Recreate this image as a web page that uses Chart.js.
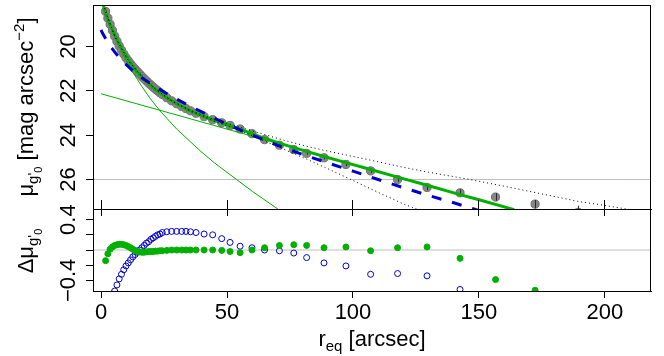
<!DOCTYPE html>
<html>
<head>
<meta charset="utf-8">
<script src="https://cdn.jsdelivr.net/npm/chart.js@4.4.1/dist/chart.umd.min.js"></script>
<style>
html, body { margin: 0; padding: 0; background: #fff; }
#wrap { position: relative; width: 664px; height: 356px; }
canvas { position: absolute; left: 0; }
#top { top: 0; }
#bot { top: 190px; }
</style>
</head>
<body>
<div id="wrap">
	<canvas id="top" width="664" height="216"></canvas>
	<canvas id="bot" width="664" height="166"></canvas>
</div>
<script>

// ---- data ----

// profile radii [arcsec], surface brightness [mag/arcsec^2] and errors
const radii = [1.8, 2.7, 3.6, 4.5, 5.4, 6.3, 7.2, 8.1, 9.0, 9.9,
	10.8, 11.7, 12.6, 13.5, 14.4, 15.3, 16.2, 17.1, 18.0, 18.9,
	19.8, 20.7, 21.6, 22.5, 23.4, 24.3, 26.1, 28.0, 30.0, 32.0,
	33.7, 35.5, 37.7, 40.9, 44.3, 47.9, 51.2, 55.2, 59.9, 64.9,
	70.8, 76.5, 81.6, 88.5, 97.2, 107.0, 117.7, 129.4, 142.5, 156.6,
	172.3, 189.4];
const surfBright = [18.42, 18.72, 19.00, 19.27, 19.53, 19.76, 19.97, 20.16, 20.34, 20.50,
	20.64, 20.78, 20.90, 21.02, 21.13, 21.24, 21.35, 21.45, 21.55, 21.65,
	21.74, 21.83, 21.92, 22.00, 22.08, 22.16, 22.31, 22.45, 22.58, 22.70,
	22.80, 22.90, 23.01, 23.16, 23.30, 23.44, 23.56, 23.72, 23.93, 24.20,
	24.45, 24.65, 24.82, 25.02, 25.32, 25.61, 26.00, 26.36, 26.60, 26.79,
	27.11, 27.48];
const surfErr = [0.02, 0.02, 0.02, 0.02, 0.02, 0.02, 0.02, 0.02, 0.02, 0.02,
	0.02, 0.02, 0.02, 0.02, 0.02, 0.02, 0.02, 0.02, 0.02, 0.02,
	0.02, 0.02, 0.02, 0.02, 0.02, 0.02, 0.02, 0.02, 0.02, 0.03,
	0.03, 0.03, 0.03, 0.03, 0.03, 0.03, 0.03, 0.03, 0.04, 0.04,
	0.05, 0.05, 0.06, 0.07, 0.08, 0.09, 0.10, 0.12, 0.15, 0.17,
	0.19, 0.30];

// residuals: two-component fit (green) and single Sersic fit (blue)
const residTwo = [-0.14, -0.05, 0.01, 0.04, 0.06, 0.07, 0.075, 0.075, 0.07, 0.06,
	0.045, 0.03, 0.01, -0.005, -0.02, -0.025, -0.03, -0.03, -0.025, -0.02,
	-0.02, -0.02, -0.015, -0.015, -0.01, -0.01, -0.005, 0, 0, 0,
	0, 0, 0, 0, 0, -0.005, -0.02, -0.035, 0, 0.03,
	0.06, 0.07, 0.06, 0.03, 0.04, -0.01, 0.03, 0.04, -0.11, -0.39,
	-0.53, -0.8];
const residOne = [-0.95, -0.82, -0.72, -0.62, -0.54, -0.46, -0.38, -0.32, -0.26, -0.21,
	-0.17, -0.13, -0.09, -0.06, -0.03, 0.0, 0.03, 0.06, 0.09, 0.11,
	0.14, 0.16, 0.18, 0.20, 0.21, 0.23, 0.24, 0.245, 0.245, 0.245,
	0.245, 0.24, 0.23, 0.21, 0.20, 0.15, 0.10, 0.05, 0.03, 0.0,
	-0.01, -0.04, -0.10, -0.17, -0.21, -0.32, -0.31, -0.34, -0.52, -0.75,
	-0.95, -1.1];

// model curves
const totalR = [0.3, 0.9, 1.8, 2.7, 3.6, 4.5, 5.4, 6.3, 7.2, 8.1,
	9.0, 10.8, 12.6, 14.4, 16.2, 18.0, 19.8, 21.6, 23.4, 26.1,
	30.0, 35.5, 40.9, 47.9, 55.2, 59.9, 64.9, 70.8, 76.5, 81.6,
	88.5, 97.2, 107.0, 117.7, 129.4, 142.5, 150.0, 164.0];
const totalMu = [17.85, 18.13, 18.50, 18.79, 19.02, 19.25, 19.48, 19.69, 19.89, 20.08,
	20.26, 20.59, 20.89, 21.15, 21.38, 21.58, 21.76, 21.93, 22.09, 22.31,
	22.58, 22.90, 23.16, 23.44, 23.73, 23.93, 24.14, 24.36, 24.56, 24.73,
	24.96, 25.24, 25.55, 25.89, 26.26, 26.68, 26.91, 27.36];

const bulgeR = [0.3, 0.9, 1.8, 3.6, 5.4, 7.2, 9.0, 10.8, 12.6, 14.4,
	16.2, 19.4, 23.4, 30.0, 39.3, 45.0, 53.8, 60.0, 70.8, 73.0];
const bulgeMu = [17.85, 18.15, 18.50, 19.05, 19.55, 20.00, 20.42, 20.80, 21.15, 21.48,
	21.80, 22.33, 22.90, 23.72, 24.70, 25.25, 26.00, 26.53, 27.38, 27.55];

const diskR = [0, 164];
const diskMu = [22.13, 27.36];

const sersicR = [0, 0.5, 2, 4, 6, 8, 10, 13, 16, 20,
	25, 30, 35, 40, 45, 50, 55, 60, 70, 80,
	90, 100, 110, 120, 130, 140, 148, 150];
const sersicMu = [19.25, 19.38, 19.68, 20.03, 20.33, 20.59, 20.82, 21.13, 21.40, 21.70,
	22.05, 22.37, 22.67, 22.95, 23.23, 23.50, 23.75, 24.00, 24.45, 24.87,
	25.25, 25.62, 26.00, 26.37, 26.72, 27.05, 27.33, 27.40];

// sky uncertainty envelope of the profile
const envUpR = [0.9, 1.8, 5.4, 10.8, 16.2, 21.6, 28.0, 35.5, 44.3, 51.2, 59.9, 70.8,
	81.6, 90.9, 98.8, 110, 120, 130, 145, 160, 175, 190, 200, 212];
const envUpMu = [18.10, 18.42, 19.53, 20.64, 21.35, 21.92, 22.44, 22.88, 23.27, 23.50, 23.80, 24.17,
	24.50, 24.74, 24.93, 25.20, 25.45, 25.67, 25.97, 26.30, 26.65, 27.00, 27.17, 27.40];
const envLoR = [0.9, 1.8, 5.4, 10.8, 16.2, 21.6, 28.0, 35.5, 44.3, 51.2, 59.9,
	70.8, 81.6, 90.9, 98.8, 110, 120, 128];
const envLoMu = [18.10, 18.42, 19.53, 20.64, 21.35, 21.92, 22.46, 22.92, 23.34, 23.63, 24.02,
	24.55, 25.08, 25.56, 25.98, 26.58, 27.10, 27.45];

// axes
const xLimits = [-3.2, 218.3];
const xTicks = [0, 50, 100, 150, 200];
const muLimits = [18.13, 27.33];
const muTicks = [20, 22, 24, 26];
const muTickLabels = ['20', '22', '24', '26'];
const muRef = 26;
const dLimits = [-0.54, 0.54];
const dTicks = [-0.4, -0.2, 0, 0.2, 0.4];
const dTickLabels = ['\u22120.4', '', '', '', '0.4'];
const dRef = 0;


const FONT = '"Liberation Sans", Arial, Helvetica, sans-serif';
const GREEN = '#00b000';
const BLUE = '#0000cc';

Chart.defaults.font.family = FONT;
Chart.defaults.color = '#000';


function pts(xs, ys) {
	return xs.map(function(x, i) { return {x: x, y: ys[i]}; });
}


function richText(ctx, parts, cx, cy, vertical) {
	let total = 0;
	parts.forEach(function(p) {
		ctx.font = p[1] + 'px ' + FONT;
		total += ctx.measureText(p[0]).width;
	});
	ctx.save();
	ctx.translate(cx, cy);
	if(vertical) {
		ctx.rotate(-Math.PI / 2);
	}
	ctx.fillStyle = '#000';
	ctx.textAlign = 'left';
	ctx.textBaseline = 'alphabetic';
	let x = -total / 2;
	parts.forEach(function(p) {
		ctx.font = p[1] + 'px ' + FONT;
		ctx.fillText(p[0], x, p[2]);
		x += ctx.measureText(p[0]).width;
	});
	ctx.restore();
}


// box round the plot region + rotated y tick labels + axis titles
const framePlugin = {
	id: 'frame',
	afterDraw(chart, args, opts) {
		const ctx = chart.ctx;
		const a = chart.chartArea;
		ctx.save();
		ctx.strokeStyle = '#000';
		ctx.lineWidth = 1;
		ctx.strokeRect(Math.round(a.left) + 0.5, Math.round(a.top) + 0.5,
			Math.round(a.right - a.left) - 1, Math.round(a.bottom - a.top));
		ctx.restore();

		const ys = chart.scales.y;
		ctx.save();
		ctx.fillStyle = '#000';
		ctx.font = '22px ' + FONT;
		ctx.textAlign = 'center';
		ctx.textBaseline = 'alphabetic';
		opts.ticks.forEach(function(v, i) {
			if(!opts.labels[i]) return;
			ctx.save();
			ctx.translate(75, ys.getPixelForValue(v));
			ctx.rotate(-Math.PI / 2);
			ctx.fillText(opts.labels[i], 0, 0);
			ctx.restore();
		});
		ctx.restore();

		(opts.titles || []).forEach(function(t) {
			richText(ctx, t.parts, t.x, t.y, t.vertical);
		});
	}
};


// error bars, drawn right after the profile points
const errorBarPlugin = {
	id: 'errbars',
	afterDatasetDraw(chart, args) {
		if(chart.data.datasets[args.index].label !== 'profile') return;
		const ctx = chart.ctx;
		const xs = chart.scales.x, ys = chart.scales.y;
		const a = chart.chartArea;
		ctx.save();
		ctx.beginPath();
		ctx.rect(a.left, a.top, a.right - a.left, a.bottom - a.top);
		ctx.clip();
		ctx.strokeStyle = '#2a2a2a';
		ctx.lineWidth = 1;
		radii.forEach(function(r, i) {
			const px = Math.round(xs.getPixelForValue(r)) + 0.5;
			let y1 = ys.getPixelForValue(surfBright[i] - surfErr[i]);
			let y2 = ys.getPixelForValue(surfBright[i] + surfErr[i]);
			if(Math.abs(y2 - y1) < 2) {
				const m = (y1 + y2) / 2;
				y1 = m - 1;
				y2 = m + 1;
			}
			ctx.beginPath();
			ctx.moveTo(px, y1);
			ctx.lineTo(px, y2);
			ctx.stroke();
		});
		ctx.restore();
	}
};


function fixedTicks(values) {
	return function(scale) {
		scale.ticks = values.map(function(v) { return {value: v}; });
	};
}


function lineSet(label, data, color, width, dash, order) {
	return {
		label: label,
		data: data,
		showLine: true,
		borderColor: color,
		borderWidth: width,
		borderDash: dash,
		pointRadius: 0,
		fill: false,
		tension: 0,
		order: order
	};
}


new Chart(document.getElementById('top').getContext('2d'), {
	type: 'scatter',
	data: {
		datasets: [
			lineSet('upper', pts(envUpR, envUpMu), '#000', 1, [1, 3], 0),
			lineSet('lower', pts(envLoR, envLoMu), '#000', 1, [1, 3], 0),
			lineSet('sersic', pts(sersicR, sersicMu), BLUE, 3, [10, 11], 1),
			lineSet('total', pts(totalR, totalMu), GREEN, 3, [], 2),
			lineSet('bulge', pts(bulgeR, bulgeMu), GREEN, 1, [], 3),
			lineSet('disk', pts(diskR, diskMu), GREEN, 1, [], 3),
			{
				label: 'profile',
				data: pts(radii, surfBright),
				showLine: false,
				pointRadius: 4.1,
				pointBorderWidth: 1,
				pointBackgroundColor: '#858585',
				pointBorderColor: '#707070',
				order: 5
			},
			lineSet('ref', pts(xLimits, [muRef, muRef]), '#bebebe', 1, [], 6)
		]
	},
	options: {
		responsive: false,
		animation: false,
		devicePixelRatio: 1,
		events: [],
		layout: {padding: {left: 0, right: 13, top: 4, bottom: 0}},
		plugins: {
			legend: {display: false},
			tooltip: {enabled: false},
			frame: {
				ticks: muTicks,
				labels: muTickLabels,
				titles: [{
					vertical: true, x: 33, y: 107,
					parts: [['\u03bc', 22, 0], ['g\'', 15, 5], ['0', 11, 9],
						[' [mag arcsec', 22, 0], ['\u22122', 15, -9], [']', 22, 0]]
				}]
			}
		},
		scales: {
			x: {
				type: 'linear', position: 'bottom',
				min: xLimits[0], max: xLimits[1],
				afterBuildTicks: fixedTicks(xTicks),
				afterFit: function(s) { s.height = 7; },
				ticks: {display: false},
				grid: {drawOnChartArea: false, tickLength: 7, color: '#000'},
				border: {color: '#000', width: 1}
			},
			y: {
				type: 'linear', position: 'left', reverse: true,
				min: muLimits[0], max: muLimits[1],
				afterBuildTicks: fixedTicks(muTicks),
				afterFit: function(s) { s.width = 93; },
				ticks: {display: false},
				grid: {drawOnChartArea: false, tickLength: 7, color: '#000'},
				border: {color: '#000', width: 1}
			}
		}
	},
	plugins: [framePlugin, errorBarPlugin]
});


new Chart(document.getElementById('bot').getContext('2d'), {
	type: 'scatter',
	data: {
		datasets: [
			{
				label: 'two',
				data: pts(radii, residTwo),
				pointRadius: 3,
				pointBorderWidth: 1,
				pointBackgroundColor: GREEN,
				pointBorderColor: GREEN,
				order: 1
			},
			{
				label: 'one',
				data: pts(radii, residOne),
				pointRadius: 3,
				pointBorderWidth: 1,
				pointBackgroundColor: 'rgba(0,0,0,0)',
				pointBorderColor: BLUE,
				order: 2
			},
			lineSet('ref', pts(xLimits, [dRef, dRef]), '#bebebe', 1, [], 3)
		]
	},
	options: {
		responsive: false,
		animation: false,
		devicePixelRatio: 1,
		events: [],
		layout: {padding: {left: 0, right: 13, top: 0, bottom: 0}},
		plugins: {
			legend: {display: false},
			tooltip: {enabled: false},
			frame: {
				ticks: dTicks,
				labels: dTickLabels,
				titles: [
					{vertical: true, x: 33, y: 61,
						parts: [['\u0394\u03bc', 22, 0], ['g\'', 15, 5], ['0', 11, 9]]},
					{vertical: false, x: 372, y: 156,
						parts: [['r', 22, 0], ['eq', 15, 5], [' [arcsec]', 22, 0]]}
				]
			}
		},
		scales: {
			x: {
				type: 'linear', position: 'bottom',
				min: xLimits[0], max: xLimits[1],
				afterBuildTicks: fixedTicks(xTicks),
				afterFit: function(s) { s.height = 65; },
				ticks: {font: {size: 22}, padding: 2, maxRotation: 0, autoSkip: false},
				grid: {drawOnChartArea: false, tickLength: 7, color: '#000'},
				border: {color: '#000', width: 1}
			},
			xTop: {
				type: 'linear', position: 'top',
				min: xLimits[0], max: xLimits[1],
				afterBuildTicks: fixedTicks(xTicks),
				afterFit: function(s) { s.height = 19; },
				ticks: {display: false},
				grid: {drawOnChartArea: false, tickLength: 9, color: '#000'},
				border: {color: '#000', width: 1}
			},
			y: {
				type: 'linear', position: 'left',
				min: dLimits[0], max: dLimits[1],
				afterBuildTicks: fixedTicks(dTicks),
				afterFit: function(s) { s.width = 93; },
				ticks: {display: false},
				grid: {drawOnChartArea: false, tickLength: 7, color: '#000'},
				border: {color: '#000', width: 1}
			}
		}
	},
	plugins: [framePlugin]
});

</script>
</body>
</html>
